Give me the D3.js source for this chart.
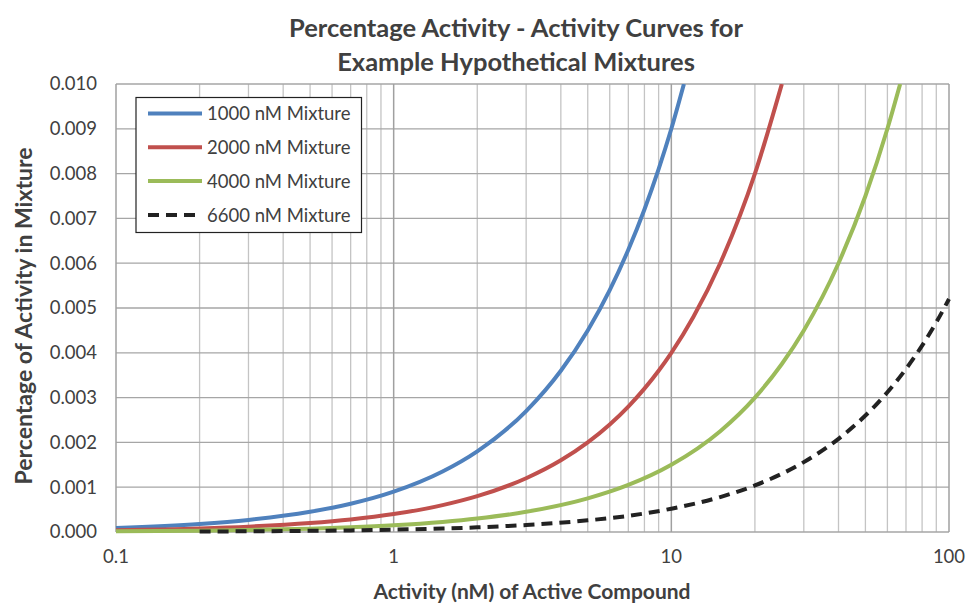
<!DOCTYPE html>
<html><head><meta charset="utf-8">
<script src="https://cdn.jsdelivr.net/npm/d3@7"></script>
<style>body{margin:0;background:#fff}svg{display:block}text{font-family:Lato,"Open Sans",sans-serif}</style>
</head><body>
<svg id="c" width="966" height="604"></svg>
<script>
const titleLines = ["Percentage Activity - Activity Curves for", "Example Hypothetical Mixtures"];
const xTitle = "Activity (nM) of Active Compound";
const yTitle = "Percentage of Activity in Mixture";
const xTickValues = [0.1, 1, 10, 100];
const xTickLabels = ["0.1", "1", "10", "100"];
const yTickValues = [0, 0.001, 0.002, 0.003, 0.004, 0.005, 0.006, 0.007, 0.008, 0.009, 0.010];
const seriesNames = ["1000 nM Mixture", "2000 nM Mixture", "4000 nM Mixture", "6600 nM Mixture"];
const seriesColors = ["#4F81BD", "#C0504D", "#9BBB59", "#222222"];
const seriesDash = [null, null, null, "11,7"];

const blueX = [0.1,0.2,0.3,0.5,0.7,1,1.5,2,3,4,5,6,7,8,9,10,11.1];
const blueY = [0.00009,0.00018,0.00027,0.00045,0.00063,0.0009,0.00135,0.0018,0.0027,0.0036,0.0045,0.0054,0.0063,0.0072,0.0081,0.009,0.010];
const redX = [0.1,0.2,0.3,0.5,0.7,1,1.5,2,3,4,5,6,7,8,9,10,12,15,20,25];
const redY = [0.00004,0.00008,0.00012,0.0002,0.00028,0.0004,0.0006,0.0008,0.0012,0.0016,0.002,0.0024,0.0028,0.0032,0.0036,0.004,0.0048,0.006,0.008,0.010];
const greenX = [0.1,0.2,0.3,0.5,0.7,1,1.5,2,3,5,7,10,15,20,25,30,40,50,60,66.7];
const greenY = [0.000015,0.00003,0.000045,0.000075,0.000105,0.00015,0.000225,0.0003,0.00045,0.00075,0.00105,0.0015,0.00225,0.003,0.00375,0.0045,0.006,0.0075,0.009,0.010];
const blackX = [0.2,0.3,0.5,0.7,1,1.5,2,3,5,7,10,15,20,30,40,50,60,70,80,90,100];
const blackY = [0.00001,0.000016,0.000026,0.000036,0.000052,0.000078,0.000104,0.000156,0.00026,0.00036,0.00052,0.00078,0.00104,0.00156,0.00208,0.0026,0.00312,0.00364,0.00416,0.00468,0.0052];
const seriesX = [blueX, redX, greenX, blackX];
const seriesY = [blueY, redY, greenY, blackY];

const svg = d3.select("#c");
const L = 116, R = 949, T = 84, B = 532;
const x = d3.scaleLog().domain([0.1, 100]).range([L, R]);
const y = d3.scaleLinear().domain([0, 0.010]).range([B, T]);

// minor vertical grid
const minor = [];
[0.1, 1, 10].forEach(d => { for (let k = 2; k <= 9; k++) minor.push(d * k); });
svg.append("g").selectAll("line").data(minor).join("line")
  .attr("x1", d => x(d)).attr("x2", d => x(d)).attr("y1", T).attr("y2", B)
  .attr("stroke", "#c4c4c4").attr("stroke-width", 1.3);
// horizontal grid
svg.append("g").selectAll("line").data(yTickValues).join("line")
  .attr("x1", L).attr("x2", R).attr("y1", d => y(d)).attr("y2", d => y(d))
  .attr("stroke", "#a6a6a6").attr("stroke-width", 1.3);
// major vertical grid
svg.append("g").selectAll("line").data(xTickValues).join("line")
  .attr("x1", d => x(d)).attr("x2", d => x(d)).attr("y1", T).attr("y2", B)
  .attr("stroke", "#a0a0a0").attr("stroke-width", 1.5);

// tick labels
svg.append("g").selectAll("text").data(yTickValues).join("text")
  .attr("x", 97).attr("y", d => y(d)).attr("dy", "0.35em").attr("text-anchor", "end")
  .attr("font-size", 18.5).attr("fill", "#404040").text(d => d3.format(".3f")(d));
svg.append("g").selectAll("text").data(xTickValues).join("text")
  .attr("x", d => x(d)).attr("y", 563).attr("text-anchor", "middle")
  .attr("font-size", 18.5).attr("fill", "#404040").text((d, i) => xTickLabels[i]);

// lines
svg.append("clipPath").attr("id", "pc").append("rect").attr("x", L - 5).attr("y", T).attr("width", R - L + 10).attr("height", B - T + 5);
const g = svg.append("g").attr("clip-path", "url(#pc)");
seriesNames.forEach((name, i) => {
  const pts = seriesX[i].map((v, j) => [v, seriesY[i][j]]);
  const gen = d3.line().x(d => x(d[0])).y(d => y(d[1])).curve(d3.curveMonotoneX);
  g.append("path").attr("d", gen(pts)).attr("fill", "none")
    .attr("stroke", seriesColors[i]).attr("stroke-width", 4)
    .attr("stroke-dasharray", seriesDash[i]);
});

// legend
const lg = svg.append("g");
lg.append("rect").attr("x", 136).attr("y", 97.5).attr("width", 225.5).attr("height", 135)
  .attr("fill", "#fff").attr("stroke", "#222").attr("stroke-width", 1.2);
seriesNames.forEach((name, i) => {
  const yy = 113.5 + i * 33.8;
  lg.append("line").attr("x1", 148).attr("x2", 202).attr("y1", yy).attr("y2", yy)
    .attr("stroke", seriesColors[i]).attr("stroke-width", 4).attr("stroke-dasharray", seriesDash[i]);
  lg.append("text").attr("x", 207).attr("y", yy).attr("dy", "0.36em")
    .attr("font-size", 18.5).attr("fill", "#404040").text(name);
});

// titles
svg.append("g").selectAll("text").data(titleLines).join("text")
  .attr("x", 516).attr("y", (d, i) => 37 + i * 34).attr("text-anchor", "middle")
  .attr("font-size", 25.5).attr("font-weight", "bold").attr("fill", "#404040").text(d => d);
svg.append("text").attr("x", 532).attr("y", 599).attr("text-anchor", "middle")
  .attr("font-size", 21).attr("font-weight", "bold").attr("fill", "#404040").text(xTitle);
svg.append("text").attr("transform", "translate(32,316) rotate(-90)").attr("text-anchor", "middle")
  .attr("font-size", 23).attr("font-weight", "bold").attr("fill", "#404040").text(yTitle);
</script>
</body></html>
